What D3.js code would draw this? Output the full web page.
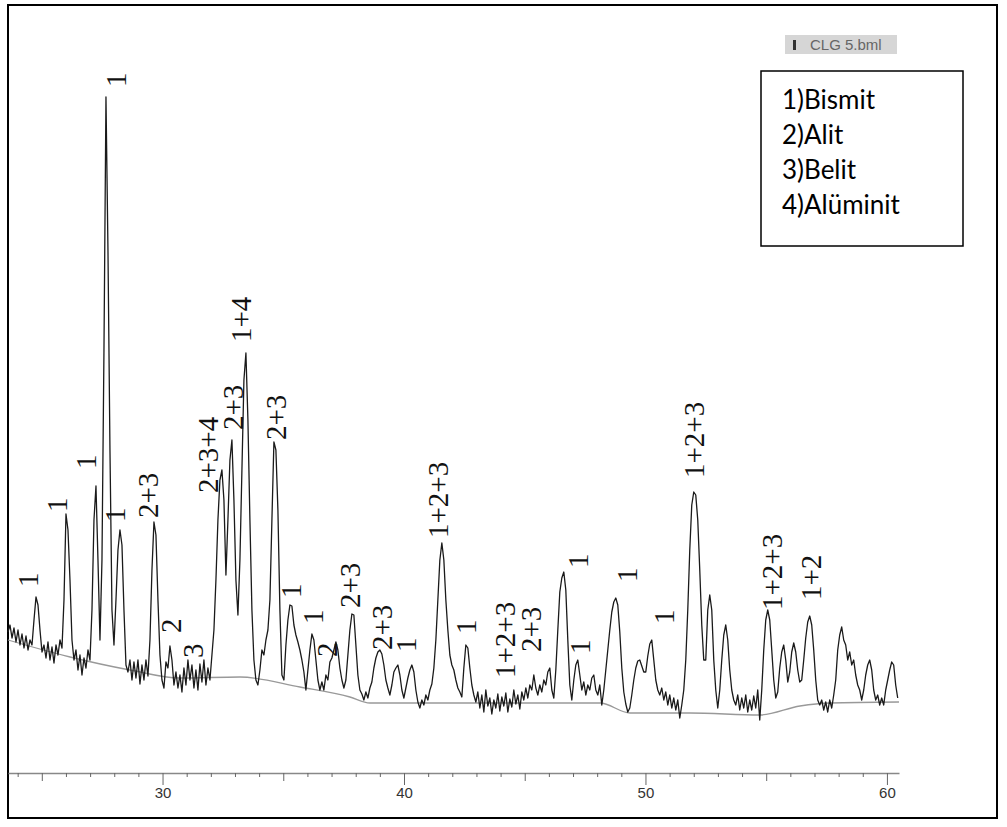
<!DOCTYPE html>
<html>
<head>
<meta charset="utf-8">
<script src="https://cdn.jsdelivr.net/npm/d3@7"></script>
<style>
  body { margin: 0; background: #fff; }
  svg { display: block; }
</style>
</head>
<body>
<svg id="chart" width="1007" height="827"></svg>
<script>
// scan settings (2-theta, degrees)
var scanStart = 23.6;
var scanStep = 0.0828;

// measured counts, one per scan step
var counts = [
  138,145,132,142,128,140,125,136,122,134,
  120,130,125,150,173,165,140,118,125,112,
  128,110,123,107,125,115,130,122,170,256,
  240,190,130,110,120,100,115,95,112,102,
  120,110,160,250,284,210,130,210,420,673,
  520,320,160,125,170,220,240,225,160,105,
  98,110,90,108,92,110,86,105,90,110,
  94,130,200,248,235,170,115,90,82,108,
  102,124,110,85,98,82,95,78,102,85,
  110,90,105,82,100,80,106,88,110,85,
  102,90,115,140,190,250,290,300,270,195,
  250,310,330,270,190,155,210,300,390,417,
  350,250,160,110,90,85,100,120,115,130,
  140,170,250,328,320,260,160,95,90,125,
  150,165,164,145,135,128,120,110,98,80,
  100,120,136,130,110,90,80,88,80,95,
  90,108,112,120,128,120,102,90,82,90,
  115,140,156,155,125,95,80,76,70,78,
  72,82,88,102,112,118,120,116,105,90,
  82,75,85,98,102,105,95,80,72,82,
  92,100,105,98,80,68,62,70,65,75,
  70,80,86,102,130,170,210,227,210,170,
  140,115,105,100,90,82,78,73,102,125,
  122,102,85,75,68,78,62,75,58,80,
  64,72,56,70,62,76,59,73,64,77,
  58,71,63,80,66,75,61,78,70,82,
  72,85,80,95,82,75,85,78,90,85,
  98,102,80,72,100,140,178,192,198,180,
  130,85,70,90,105,110,95,80,88,75,
  85,80,92,95,80,75,85,65,80,100,
  120,140,158,168,172,165,138,102,78,66,
  58,62,75,90,102,109,110,104,98,98,
  114,126,130,110,90,80,75,82,70,78,
  65,75,62,72,60,70,52,65,80,110,
  160,220,265,278,275,250,200,145,110,110,
  160,175,160,110,80,62,80,110,135,145,
  130,100,80,70,65,75,60,72,62,75,
  58,70,60,74,62,80,50,80,120,150,
  160,150,120,90,72,78,102,118,125,110,
  88,98,118,127,118,100,88,90,110,132,
  148,154,145,120,90,70,65,70,60,68,
  58,70,62,75,90,120,135,143,130,125,
  110,118,105,110,95,85,80,70,80,95,
  105,110,100,80,70,75,65,72,65,80,
  90,100,108,105,85,72
];

// fitted background [2theta, counts]
var background = [
  [23.60,130],[26.17,113],[28.65,100],[30.72,92],[33.21,93],[35.69,83],
  [37.76,73],[38.59,67],[46.05,67],[48.12,67],[49.36,57],[51.84,57],
  [54.74,55],[56.40,64],[57.64,67],[60.50,68]
];

// peak labels: phase text, 2theta, counts where the label starts
var peakText  = ["1","1","1","1","1","2+3","2","3","2+3+4","2+3","1+4","2+3","1","1","2",
                 "2+3","2+3","1","1+2+3","1","1+2+3","2+3","1","1","1","1","1+2+3","1+2+3","1+2"];
var peakAngle = [24.43,25.63,26.83,28.11,28.03,29.40,30.35,31.26,31.92,32.92,33.25,34.70,35.32,36.23,36.81,
                 37.80,39.09,40.08,41.41,42.57,44.22,45.26,47.21,47.29,49.24,50.77,52.01,55.24,56.86];
var peakLevel = [183,258,301,683,248,252,137,112,277,340,428,330,172,146,113,
                 162,120,118,232,136,92,118,202,116,188,146,292,160,170];

var legendItems = ["1)Bismit", "2)Alit", "3)Belit", "4)Alüminit"];
var fileName = "CLG 5.bml";

var svg = d3.select("#chart");

svg.append("rect")
  .attr("x", 8).attr("y", 5)
  .attr("width", 989).attr("height", 813)
  .attr("fill", "#fff")
  .attr("stroke", "#000")
  .attr("stroke-width", 2);

var x = d3.scaleLinear().domain([23.6, 60.5]).range([8, 899]);
var y = d3.scaleLinear().domain([0, 700]).range([770, 70]);

var scan = counts.map(function(c, i) { return [scanStart + i * scanStep, c]; });

var line = d3.line()
  .x(function(d) { return x(d[0]); })
  .y(function(d) { return y(d[1]); });

svg.append("path")
  .datum(background)
  .attr("fill", "none")
  .attr("stroke", "#999")
  .attr("stroke-width", 1.3)
  .attr("d", line.curve(d3.curveMonotoneX));

svg.append("path")
  .datum(scan)
  .attr("fill", "none")
  .attr("stroke", "#1a1a1a")
  .attr("stroke-width", 1.3)
  .attr("stroke-linejoin", "round")
  .attr("d", line.curve(d3.curveLinear));

// x axis
var axis = svg.append("g")
  .attr("transform", "translate(0,773)")
  .call(d3.axisBottom(x)
    .tickValues(d3.range(24, 61))
    .tickSize(4)
    .tickSizeOuter(0)
    .tickFormat(function(d) { return d % 10 === 0 ? d : ""; }));

axis.select(".domain").attr("stroke", "#888").attr("stroke-width", 1.5);
axis.selectAll(".tick line")
  .attr("stroke", "#666")
  .attr("y2", function(d) { return d % 10 === 0 ? 12 : (d % 5 === 0 ? 8 : 4); });
axis.selectAll(".tick text")
  .attr("y", 14)
  .attr("fill", "#333")
  .attr("font-family", "Liberation Sans")
  .attr("font-size", 15);

// peak labels
svg.append("g").selectAll("text")
  .data(peakText)
  .enter().append("text")
  .attr("transform", function(d, i) {
    return "translate(" + x(peakAngle[i]) + "," + y(peakLevel[i]) + ") rotate(-90)";
  })
  .attr("dy", "0.33em")
  .attr("text-anchor", "start")
  .attr("fill", "#111")
  .attr("font-family", "Liberation Serif")
  .attr("font-size", 29)
  .text(function(d) { return d; });

// file badge
var badge = svg.append("g").attr("transform", "translate(785,35)");
badge.append("rect").attr("width", 112).attr("height", 19).attr("fill", "#d6d6d6");
badge.append("rect").attr("x", 8).attr("y", 5).attr("width", 3).attr("height", 10).attr("fill", "#333");
badge.append("text")
  .attr("x", 25).attr("y", 15)
  .attr("fill", "#666")
  .attr("font-family", "Liberation Sans")
  .attr("font-size", 15)
  .text(fileName);

// legend
var legend = svg.append("g").attr("transform", "translate(761,71)");
legend.append("rect")
  .attr("width", 202).attr("height", 175)
  .attr("fill", "#fff")
  .attr("stroke", "#000")
  .attr("stroke-width", 1.5);

legend.selectAll("text")
  .data(legendItems)
  .enter().append("text")
  .attr("x", 21)
  .attr("y", function(d, i) { return 38 + i * 35; })
  .attr("fill", "#000")
  .attr("font-family", "Lato")
  .attr("font-size", 26)
  .text(function(d) { return d; });
</script>
</body>
</html>
